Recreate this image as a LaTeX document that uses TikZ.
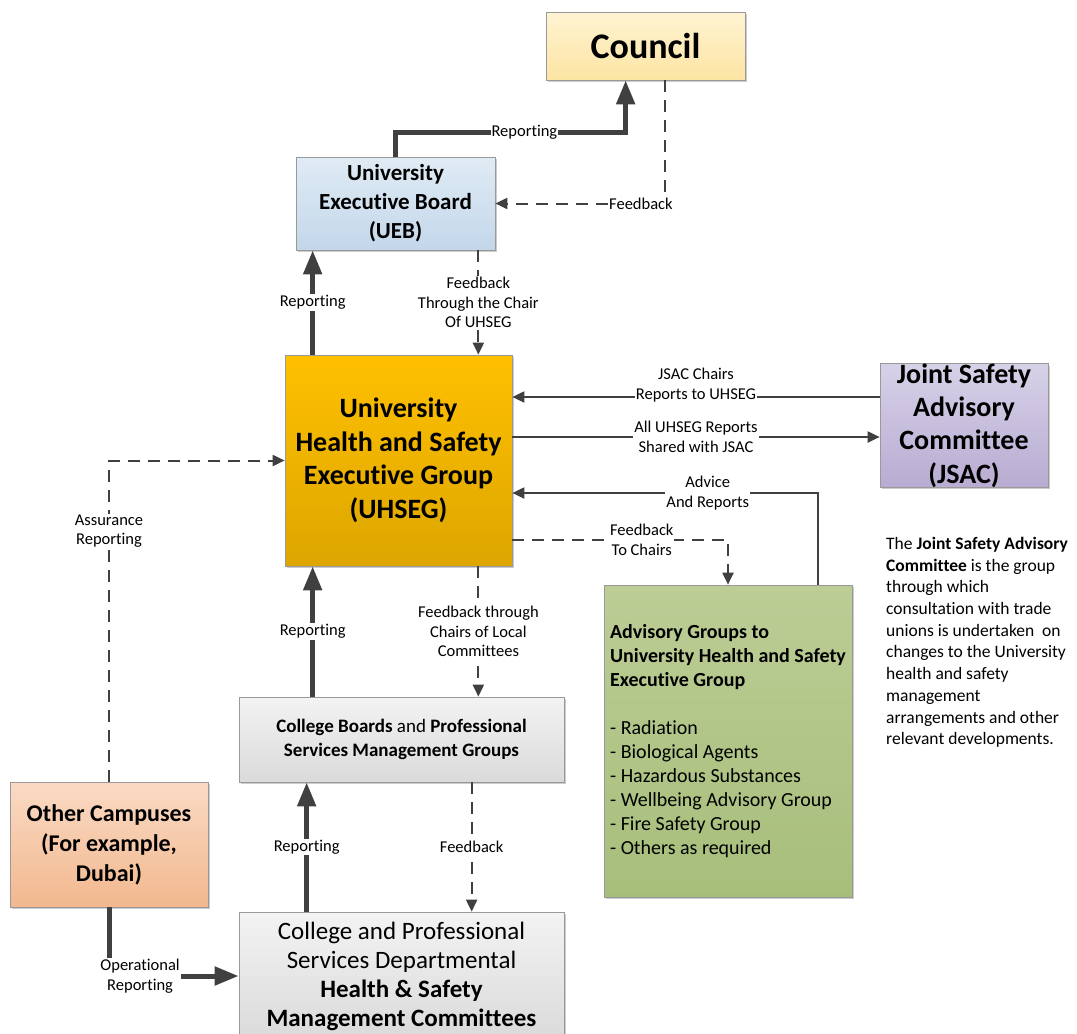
\documentclass[tikz,border=0pt]{standalone}
\usepackage{fontspec}
\setmainfont{Carlito}[Ligatures=NoCommon]
\usetikzlibrary{arrows.meta,shadows}

\definecolor{linegray}{HTML}{404040}
\definecolor{councilA}{HTML}{FFF3D2}
\definecolor{councilB}{HTML}{FCE4A2}
\definecolor{uebA}{HTML}{E0EBF5}
\definecolor{uebB}{HTML}{C3D7EA}
\definecolor{uhsegA}{HTML}{FFC000}
\definecolor{uhsegB}{HTML}{DDA600}
\definecolor{jsacA}{HTML}{D7D1E8}
\definecolor{jsacB}{HTML}{B8ACD2}
\definecolor{advA}{HTML}{BCCD95}
\definecolor{advB}{HTML}{A7BE7B}
\definecolor{greyA}{HTML}{F3F3F3}
\definecolor{greyB}{HTML}{DADADA}
\definecolor{campA}{HTML}{FADAC4}
\definecolor{campB}{HTML}{F2B88E}

\begin{document}
\begin{tikzpicture}[x=1pt,y=-1pt,
  box/.style={draw=black!40,line width=.7pt,align=center,inner sep=0pt,
    drop shadow={shadow xshift=2pt,shadow yshift=-2pt,opacity=.2,fill=black}},
  lbl/.style={fill=white,inner sep=1pt,align=center,font=\fontsize{16.5}{19.5}\selectfont},
  report/.style={draw=linegray,line width=5pt,-{Triangle[length=24pt,width=18pt]}},
  arr/.style={draw=linegray,line width=2pt,-{Triangle[length=12pt,width=11pt]}},
  fb/.style={arr,dash pattern=on 12pt off 8pt},
]
\useasboundingbox (0,0) rectangle (1077,1034);

\node[box,top color=councilA,bottom color=councilB,minimum width=199pt,minimum height=68pt,
  font=\fontsize{36}{40}\selectfont\bfseries] (council) at (645.5,46) {Council};
\node[box,top color=uebA,bottom color=uebB,minimum width=199pt,minimum height=93pt,
  font=\fontsize{23}{29}\selectfont\bfseries] (ueb) at (395.5,203.5) {University\\Executive Board\\(UEB)};
\node[box,top color=uhsegA,bottom color=uhsegB,minimum width=227pt,minimum height=211pt,
  font=\fontsize{28}{33.5}\selectfont\bfseries] (uhseg) at (398.5,460.5) {University\\Health and Safety\\Executive Group\\(UHSEG)};
\node[box,top color=jsacA,bottom color=jsacB,minimum width=168pt,minimum height=115pt,
  font=\fontsize{28}{33.3}\selectfont\bfseries] (jsac) at (964,425.5) {Joint Safety\\Advisory\\Committee\\(JSAC)};
\node[box,top color=advA,bottom color=advB,minimum width=248pt,minimum height=312pt,
  align=left,font=\fontsize{20}{24}\selectfont] (adv) at (728,741)
  {\textbf{Advisory Groups to}\\\textbf{University Health and Safety}\\\textbf{Executive Group}\\[24pt]
   - Radiation\\- Biological Agents\\- Hazardous Substances\\- Wellbeing Advisory Group\\- Fire Safety Group\\- Others as required};
\node[box,top color=greyA,bottom color=greyB,minimum width=325pt,minimum height=85pt,
  font=\fontsize{19}{24}\selectfont] (cb) at (401.5,739.5)
  {\textbf{College Boards} and \textbf{Professional}\\\textbf{Services Management Groups}};
\node[box,top color=greyA,bottom color=greyB,minimum width=325pt,minimum height=128pt,
  font=\fontsize{25}{29}\selectfont] (cpsd) at (401.5,976)
  {College and Professional\\Services Departmental\\\textbf{Health \& Safety}\\\textbf{Management Committees}};
\node[box,top color=campA,bottom color=campB,minimum width=198pt,minimum height=125pt,
  font=\fontsize{24}{30}\selectfont\bfseries] (other) at (109,844.5) {Other Campuses\\(For example,\\Dubai)};
\node[anchor=north west,inner sep=0pt,align=left,font=\fontsize{17.5}{21.7}\selectfont] (note) at (886,537)
  {The \textbf{Joint Safety Advisory}\\\textbf{Committee} is the group\\through which\\consultation with trade\\
   unions is undertaken\ \ on\\changes to the University\\health and safety\\management\\arrangements and other\\relevant developments.};

\draw[report] (ueb.north) -- ++(0,-24) -| node[lbl,pos=.28]{Reporting} ([xshift=80pt]council.south west);
\draw[fb] ([xshift=119pt]council.south west) |- node[lbl,pos=.57]{Feedback} (ueb.east);
\draw[report] ([xshift=28pt]uhseg.north west) -- node[lbl]{Reporting} ([xshift=28pt]uhseg.north west |- ueb.south);
\draw[fb] ([xshift=-17pt]ueb.south east) -- node[lbl]{Feedback\\Through the Chair\\Of UHSEG} ([xshift=-17pt]ueb.south east |- uhseg.north);
\draw[arr] ([yshift=28.5pt]jsac.west) -- node[lbl,anchor=south,yshift=-7pt]{JSAC Chairs\\Reports to UHSEG} ([yshift=28.5pt]jsac.west -| uhseg.east);
\draw[arr] ([yshift=23.5pt]uhseg.east) -- node[lbl]{All UHSEG Reports\\Shared with JSAC} ([yshift=23.5pt]uhseg.east -| jsac.west);
\draw[arr] ([xshift=214pt]adv.north west) |- node[lbl,pos=.68]{Advice\\And Reports} ([yshift=-32.5pt]uhseg.east);
\draw[fb] ([yshift=-79.5pt]uhseg.east) -| node[lbl,pos=.3]{Feedback\\To Chairs} (adv.north);
\draw[fb] ([xshift=-34pt]uhseg.south east) -- node[lbl]{Feedback through\\Chairs of Local\\Committees} ([xshift=-34pt]uhseg.south east |- cb.north);
\draw[report] ([xshift=74pt]cb.north west) -- node[lbl]{Reporting} ([xshift=74pt]cb.north west |- uhseg.south);
\draw[report] ([xshift=68pt]cpsd.north west) -- node[lbl]{Reporting} ([xshift=68pt]cpsd.north west |- cb.south);
\draw[fb] ([xshift=233pt]cb.south west) -- node[lbl]{Feedback} ([xshift=233pt]cb.south west |- cpsd.north);
\draw[report] (other.south) |- node[lbl,pos=.62]{Operational\\Reporting} (cpsd.west);
\draw[fb] (other.north) |- node[lbl,pos=.39]{Assurance\\Reporting} (uhseg.west);
\end{tikzpicture}
\end{document}
